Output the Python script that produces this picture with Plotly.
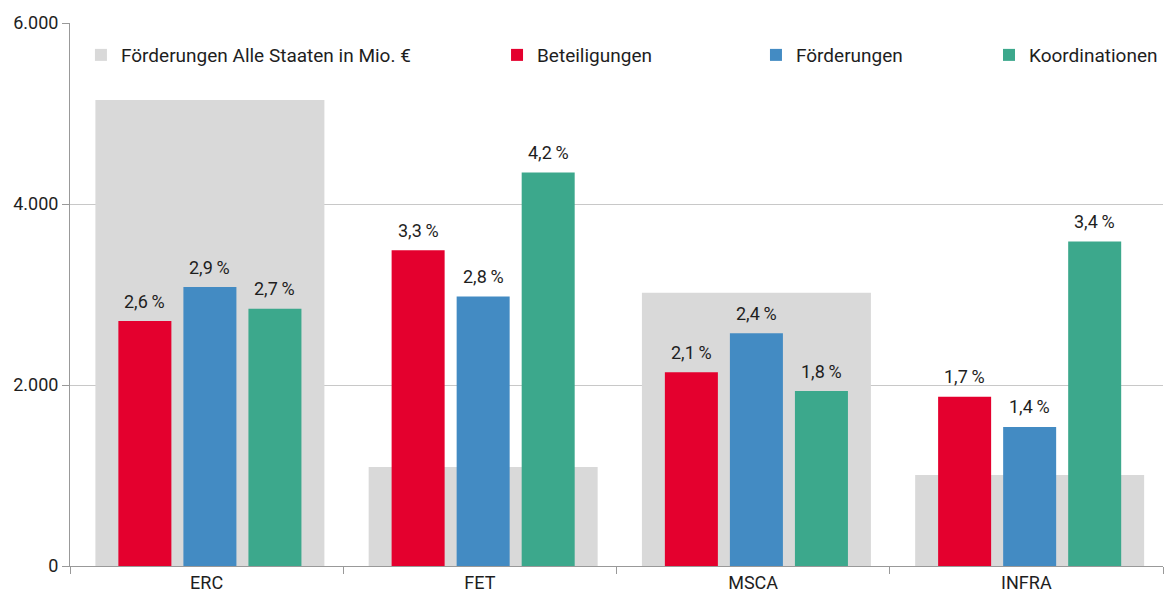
import plotly.graph_objects as go

categories = ["ERC", "FET", "MSCA", "INFRA"]
total_funding = [5150, 1095, 3020, 1005]  # Förderungen Alle Staaten in Mio. €
beteiligungen = [2.59, 3.34, 2.05, 1.79]
foerderungen = [2.95, 2.85, 2.46, 1.47]
koordinationen = [2.72, 4.16, 1.85, 3.43]
beteiligungen_lbl = ["2,6", "3,3", "2,1", "1,7"]
foerderungen_lbl = ["2,9", "2,8", "2,4", "1,4"]
koordinationen_lbl = ["2,7", "4,2", "1,8", "3,4"]
y_ticks = [0, 2000, 4000, 6000]

FONT = "Roboto, DejaVu Sans, sans-serif"
FS = 18
TXT = "#1e1e1e"
GRAY = "#d9d9d9"
RED = "#e4002e"
BLUE = "#438bc3"
GREEN = "#3ca88c"
SHIFT = 0.012

fig = go.Figure()
fig.add_trace(go.Bar(
    x=categories, y=total_funding, name="Förderungen Alle Staaten in Mio. €",
    marker=dict(color=GRAY, line=dict(width=0)), width=0.838, offset=-0.419 + SHIFT,
    legend="legend", showlegend=True, hoverinfo="skip"))

series = [
    ("Beteiligungen", beteiligungen, beteiligungen_lbl, RED, -0.238, "legend2"),
    ("Förderungen", foerderungen, foerderungen_lbl, BLUE, 0.0, "legend3"),
    ("Koordinationen", koordinationen, koordinationen_lbl, GREEN, 0.238, "legend4"),
]
bw = 0.194
for name, vals, lbls, col, off, lg in series:
    fig.add_trace(go.Bar(
        x=categories, y=vals, name=name, yaxis="y2",
        marker=dict(color=col, line=dict(width=0)), width=bw,
        offset=off - bw / 2 + SHIFT,
        legend=lg, showlegend=True, hoverinfo="skip"))

annotations = []
for name, vals, lbls, col, off, lg in series:
    for i, (v, l) in enumerate(zip(vals, lbls)):
        annotations.append(dict(
            x=i + off + SHIFT, y=v, xref="x", yref="y2", text=l + "\u2009%",
            showarrow=False, yanchor="middle", yshift=20,
            font=dict(family=FONT, size=FS, color=TXT)))

leg_common = dict(orientation="h", yanchor="middle", y=0.941,
                  bgcolor="rgba(0,0,0,0)", font=dict(family=FONT, size=19, color=TXT),
                  itemclick=False, itemdoubleclick=False)

fig.update_layout(
    width=1166, height=597,
    margin=dict(l=70, r=3, t=23, b=31),
    paper_bgcolor="white", plot_bgcolor="white",
    separators=",.",
    barmode="overlay",
    showlegend=True,
    font=dict(family=FONT, size=FS, color=TXT),
    xaxis=dict(type="category", range=[-0.5, 3.5], tickson="boundaries",
               ticks="outside", ticklen=7, tickcolor="#999999", tickwidth=1,
               showline=True, linecolor="#999999", linewidth=1,
               showgrid=False, tickfont=dict(family=FONT, size=FS, color=TXT)),
    yaxis=dict(range=[0, 6000], tickvals=y_ticks, tickformat=",d",
               ticks="outside", ticklen=7, tickcolor="#999999",
               showline=True, linecolor="#999999", linewidth=1,
               showgrid=True, gridcolor="#c8c8c8", gridwidth=1,
               zeroline=False, tickfont=dict(family=FONT, size=FS, color=TXT)),
    yaxis2=dict(range=[0, 6000 / 1045], overlaying="y", visible=False),
    legend=dict(x=0.010, xanchor="left", **leg_common),
    legend2=dict(x=0.3907, xanchor="left", **leg_common),
    legend3=dict(x=0.6276, xanchor="left", **leg_common),
    legend4=dict(x=1.0, xanchor="right", **leg_common),
    annotations=annotations,
)

fig.write_html("out.html", config={"displayModeBar": False},
               post_script="document.body.style.margin='0';")
